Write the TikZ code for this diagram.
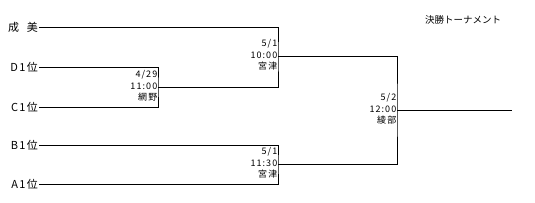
\documentclass[tikz,border=0pt]{standalone}
\usepackage{fontspec}
\newfontfamily\jp{Noto Sans CJK JP}
\newfontfamily\jpwide[LetterSpace=12]{Noto Sans CJK JP}
\usetikzlibrary{positioning}
\tikzset{
    % team names at the left
    team/.style={
        anchor=east,
        inner sep=1pt,
        font=\jpwide\fontsize{11}{12}\selectfont
    },
    % date, time and venue of a match
    info/.style={
        anchor=east,
        align=right,
        inner sep=0.5pt,
        font=\jpwide\fontsize{9}{11.5}\selectfont
    },
    % bracket lines
    bracket/.style={
        draw=black,
        line width=0.9pt
    }
}
\begin{document}
\begin{tikzpicture}[x=1pt, y=-1pt]
    \useasboundingbox (0,0) rectangle (535,202);

    % Title
    \node[font=\jp\fontsize{9.5}{11}\selectfont] (title) at (463,20) {決勝トーナメント};

    % Teams
    \node[team] (seibi) at (39,27) {成\ \ 美};
    \node[team] (d1) at (39,67) {D1位};
    \node[team] (c1) at (39,107) {C1位};
    \node[team] (b1) at (39,145) {B1位};
    \node[team] (a1) at (39,184) {A1位};

    % Match points
    \coordinate (q1) at (158,87);
    \coordinate (s1) at (278,56);
    \coordinate (s2) at (278,164);
    \coordinate (fin) at (397,110);
    \coordinate (champ) at (512,110);

    % Bracket
    \draw[bracket] (d1.east) -| (q1) |- (c1.east);
    \draw[bracket] (seibi.east) -| (s1) |- (q1);
    \draw[bracket] (b1.east) -| (s2) |- (a1.east);
    \draw[bracket] (s1) -| (fin) |- (s2);
    \draw[bracket] (fin) -- (champ);

    % Match info
    \node[info] (m1) at (158,86) {4/29\\11:00\\網野};
    \node[info] (m2) at (278,55) {5/1\\10:00\\宮津};
    \node[info] (m3) at (278,163) {5/1\\11:30\\宮津};
    \node[info] (m4) at (397,109) {5/2\\12:00\\綾部};
\end{tikzpicture}
\end{document}
